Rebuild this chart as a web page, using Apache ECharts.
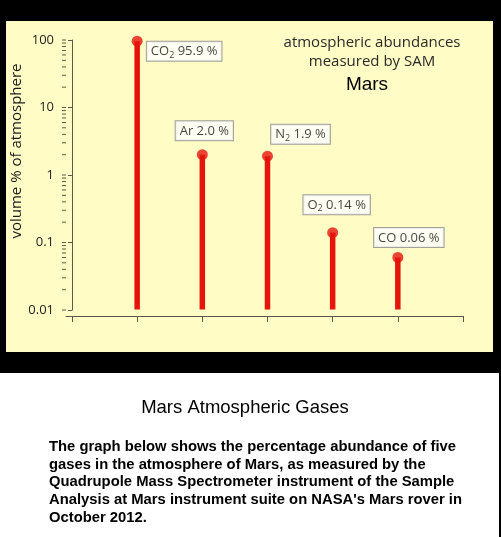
<!DOCTYPE html>
<html><head><meta charset="utf-8">
<script src="https://cdn.jsdelivr.net/npm/echarts@6/dist/echarts.min.js"></script>
<style>html,body{margin:0;padding:0;background:#000}#c{width:501px;height:537px}</style>
</head><body><div id="c"></div>
<script>
// ---- data ----
const gases = ['CO', 'Ar', 'N', 'O', 'CO'];
const gasSub = ['2', '', '2', '2', ''];
const gasPercent = [95.9, 2.0, 1.9, 0.14, 0.06];
const gasPercentText = ['95.9', '2.0', '1.9', '0.14', '0.06'];
const gasPositions = [1, 2, 3, 4, 5];
const xTickValues = [0, 1, 2, 3, 4, 5, 6];
const yTickLabels = ['0.01', '0.1', '1', '10', '100'];
const yMinorTicks = [0.02,0.03,0.04,0.05,0.06,0.07,0.08,0.09,
  0.2,0.3,0.4,0.5,0.6,0.7,0.8,0.9, 2,3,4,5,6,7,8,9, 20,30,40,50,60,70,80,90];
// label placement (pixel offsets from dot centre), layout only
const labelOffsets = [[47, 10], [2, -24], [33, -22], [4, -28], [11, -20]];

const RED = '#e5150c';
const AXIS = '#5a5a48';
const FONT = '"Open Sans", "DejaVu Sans", sans-serif';
const X_MIN = -0.092;
const Y_AXIS_OFFSET = 4;

const chart = echarts.init(document.getElementById('c'), null, {renderer: 'canvas'});

const dotData = gasPositions.map((x, i) => ({
  value: [x, gasPercent[i]],
  label: {
    offset: labelOffsets[i],
    formatter: '{m|' + gases[i] + '}' + (gasSub[i] ? '{s|' + gasSub[i] + '}' : '') + '{m| ' + gasPercentText[i] + ' %}'
  }
}));

const innerTicks = yTickLabels.map(Number).concat(yMinorTicks);

chart.setOption({
  backgroundColor: '#000',
  animation: false,
  grid: {left: 66, right: 38, top: 40, bottom: 227},
  xAxis: {
    type: 'value', min: X_MIN, max: 6, offset: 6,
    splitLine: {show: false},
    axisLine: {lineStyle: {color: AXIS, width: 1}},
    axisTick: {show: true, customValues: xTickValues, length: 6, lineStyle: {color: AXIS}},
    axisLabel: {show: false}
  },
  yAxis: {
    type: 'log', min: 0.01, max: 100, logBase: 10, offset: Y_AXIS_OFFSET,
    splitLine: {show: false},
    axisLine: {show: true, lineStyle: {color: AXIS}},
    axisTick: {show: true, length: 4, lineStyle: {color: AXIS}},
    axisLabel: {
      margin: 8, color: '#222', fontSize: 13, fontFamily: FONT,
      customValues: yTickLabels.map(Number),
      formatter: v => yTickLabels.find(t => Math.abs(Number(t) - v) < 1e-9 * Math.max(1, v)) || ''
    }
  },
  series: [{
    // inward tick marks on the y axis (major + minor), placed through the log scale
    type: 'custom',
    silent: true,
    clip: false,
    data: innerTicks.map(v => [X_MIN, v]),
    renderItem: function (params, api) {
      const p = api.coord([api.value(0), api.value(1)]);
      const x0 = params.coordSys.x - Y_AXIS_OFFSET;
      return {type: 'line', shape: {x1: x0, y1: p[1], x2: x0 + 4, y2: p[1]},
        style: {stroke: AXIS, lineWidth: 1}};
    },
    z: 1
  }, {
    type: 'custom',
    data: gasPositions.map((x, i) => [x, gasPercent[i]]),
    renderItem: function (params, api) {
      const x = api.value(0), v = api.value(1);
      const p0 = api.coord([x, 0.01]);
      const p1 = api.coord([x, v]);
      return {type: 'line', shape: {x1: p0[0], y1: p0[1] - 0.5, x2: p1[0], y2: p1[1]},
        style: {stroke: RED, lineWidth: 5.5}};
    },
    z: 2
  }, {
    type: 'scatter',
    data: dotData,
    symbol: 'circle', symbolSize: 11,
    itemStyle: {color: RED},
    label: {
      show: true, position: 'inside',
      backgroundColor: '#fff', borderColor: '#8a8a8a', borderWidth: 1,
      padding: [2, 4, 1, 4],
      rich: {
        m: {fontSize: 13, fontFamily: FONT, color: '#111', lineHeight: 16},
        s: {fontSize: 9, fontFamily: FONT, color: '#111', lineHeight: 16, padding: [7, 0, 0, 0]}
      }
    },
    z: 3
  }],
  graphic: [
    {type: 'rect', z: -100, shape: {x: 6, y: 21, width: 487, height: 331}, style: {fill: '#fffcc6'}},
    {type: 'rect', z: -100, shape: {x: 0, y: 373, width: 499, height: 164}, style: {fill: '#ffffff'}},
    {type: 'text', x: 372, y: 43, style: {text: 'atmospheric abundances', fill: '#2a2a2a', font: '15px ' + FONT, align: 'center', verticalAlign: 'middle'}},
    {type: 'text', x: 372, y: 62, style: {text: 'measured by SAM', fill: '#2a2a2a', font: '15px ' + FONT, align: 'center', verticalAlign: 'middle'}},
    {type: 'text', x: 367, y: 85, style: {text: 'Mars', fill: '#000', font: '19px "Liberation Sans", Arial, sans-serif', align: 'center', verticalAlign: 'middle'}},
    {type: 'text', x: 17, y: 151, rotation: Math.PI / 2, style: {text: 'volume % of atmosphere', fill: '#1a1a1a', font: '15px ' + FONT, align: 'center', verticalAlign: 'middle'}},
    {type: 'text', x: 245, y: 408, style: {text: 'Mars Atmospheric Gases', fill: '#000', font: '18.5px "Liberation Sans", Arial, sans-serif', align: 'center', verticalAlign: 'middle'}},
    {type: 'text', x: 49, y: 438, style: {
      text: 'The graph below shows the percentage abundance of five\ngases in the atmosphere of Mars, as measured by the\nQuadrupole Mass Spectrometer instrument of the Sample\nAnalysis at Mars instrument suite on NASA\'s Mars rover in\nOctober 2012.',
      fill: '#000', font: 'bold 14.8px "Liberation Sans", Arial, sans-serif', lineHeight: 17.7, align: 'left', verticalAlign: 'top'}}
  ]
});
</script></body></html>
